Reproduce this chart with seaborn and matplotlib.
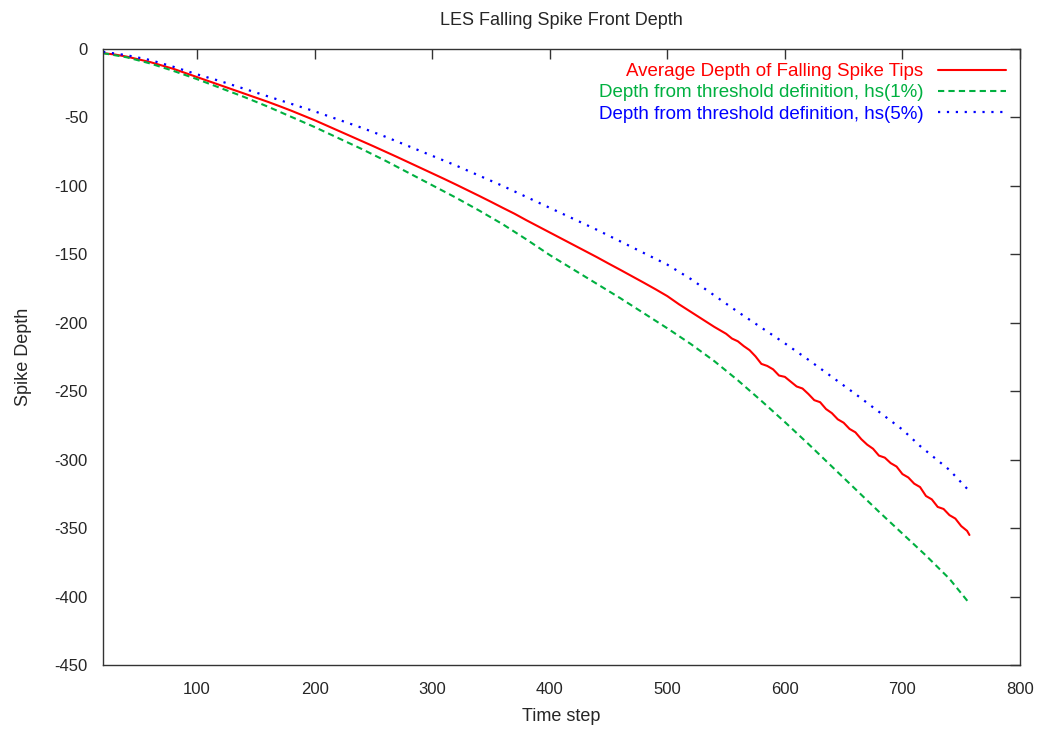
import matplotlib
matplotlib.use("Agg")
import matplotlib.pyplot as plt
import seaborn as sns
import pandas as pd

# Average depth of falling spike tips (red)
red_t = [20, 30, 40, 50, 60, 70, 80, 90, 100, 110, 120, 130, 140, 150, 160, 170, 180, 190,
         200, 210, 220, 230, 240, 250, 260, 270, 280, 290, 300, 310, 320, 330, 340, 350,
         360, 370, 380, 390, 400, 410, 420, 430, 440, 450, 460, 470, 480, 490, 500, 510,
         520, 530, 540, 545, 550, 555, 560, 565, 570, 575, 580, 585, 590, 595, 600, 605,
         610, 615, 620, 625, 630, 635, 640, 645, 650, 655, 660, 665, 670, 675, 680, 685,
         690, 695, 700, 705, 710, 715, 720, 725, 730, 735, 740, 745, 750, 755, 757]
red_y = [-3, -4, -5.5, -7.5, -9.5, -12, -14.5, -17.5, -20.5, -23.5, -26.5, -29.5, -32.5,
         -35.5, -38.5, -41.7, -45, -48.5, -52, -55.8, -59.6, -63.4, -67.2, -71, -74.9,
         -78.8, -82.8, -86.8, -90.8, -94.8, -98.9, -103.1, -107.3, -111.6, -116, -120.3,
         -125, -129.5, -134, -138.5, -143, -147.5, -152, -156.7, -161.3, -166, -170.7,
         -175.5, -180.5, -186.5, -192, -197.5, -203, -205.5, -208, -211.5, -213.5, -217,
         -220, -224.5, -230, -231.5, -234, -238.5, -239.5, -243, -246.5, -248, -252,
         -256.5, -258, -263, -266, -270.5, -273, -277.5, -280, -285, -289, -292, -297,
         -298.5, -302.5, -305, -310.5, -313, -317.5, -320, -326.5, -329, -334.5, -336,
         -340.5, -343, -348.5, -352, -355]

# Threshold definition hs(1%) (green)
green_t = [20, 40, 60, 80, 100, 120, 140, 160, 180, 200, 220, 240, 260, 280, 300, 320, 340,
           360, 380, 400, 420, 440, 460, 480, 500, 520, 540, 560, 580, 600, 620, 640, 660,
           680, 700, 720, 740, 757]
green_y = [-3, -6, -10.5, -16, -22, -28.5, -35, -42, -49.5, -57, -65, -73, -81.5, -90.5,
           -99.5, -108.5, -118, -128, -139, -150.5, -161, -171.5, -182, -193, -204, -215.5,
           -228, -242, -257, -272.5, -288.5, -305, -321.5, -338, -354, -370, -387, -405]

# Threshold definition hs(5%) (blue)
blue_t = [20, 40, 60, 80, 100, 120, 140, 160, 180, 200, 220, 240, 260, 280, 300, 320, 340,
          360, 380, 400, 420, 440, 460, 480, 500, 520, 540, 560, 580, 600, 620, 640, 660,
          680, 700, 715, 740, 757]
blue_y = [-2, -4.5, -8, -13, -18.5, -23.5, -29, -34.5, -40, -45.5, -51.5, -57.5, -64, -71,
          -78, -85, -92.5, -100, -108, -116, -124, -132, -140.5, -149, -157.5, -168, -180,
          -192, -203.5, -215, -227, -239.5, -252, -265, -278, -290, -307.5, -323]

labels = ["Average Depth of Falling Spike Tips",
          "Depth from threshold definition, hs(1%)",
          "Depth from threshold definition, hs(5%)"]
x_ticks = [100, 200, 300, 400, 500, 600, 700, 800]
y_ticks = [0, -50, -100, -150, -200, -250, -300, -350, -400, -450]

sns.set_style("white")
plt.rcParams['font.family'] = ['Liberation Sans', 'DejaVu Sans']
plt.rcParams['axes.unicode_minus'] = False

fig = plt.figure(figsize=(10.44, 7.32), dpi=100)
ax = fig.add_axes([0.0987, 0.0915, 0.8783, 0.8415])

sns.lineplot(x=red_t, y=red_y, ax=ax, color="#ff0000", lw=1.5, label=labels[0])
sns.lineplot(x=green_t, y=green_y, ax=ax, color="#00b040", lw=1.5,
             label=labels[1], linestyle=(0, (3, 2)))
sns.lineplot(x=blue_t, y=blue_y, ax=ax, color="#0000ff", lw=1.6,
             label=labels[2], linestyle=(0, (1, 3)))

ax.set_xlim(20, 800)
ax.set_ylim(-450, 0)
ax.set_xticks(x_ticks)
ax.set_yticks(y_ticks)
ax.tick_params(axis="x", direction="in", top=True, length=7, width=1,
               labelsize=12, color="#333333", pad=12)
ax.tick_params(axis="y", direction="in", right=True, length=7, width=1,
               labelsize=12, color="#333333", pad=11)
for s in ax.spines.values():
    s.set_color("#333333")
    s.set_linewidth(1)

ax.set_xlabel("Time step", fontsize=13, labelpad=8)
ax.set_ylabel("Spike Depth", fontsize=13, labelpad=16)
ax.set_title("LES Falling Spike Front Depth", fontsize=13, pad=17)

leg = ax.legend(loc="upper right", frameon=False, markerfirst=False, fontsize=13.5,
                labelcolor="linecolor", handlelength=3.6, borderaxespad=0.35,
                labelspacing=0.22, handletextpad=0.8)
for t in leg.get_texts():
    t.set_ha("right")
leg._legend_box.align = "right"

fig.savefig("out.png", dpi=100)
